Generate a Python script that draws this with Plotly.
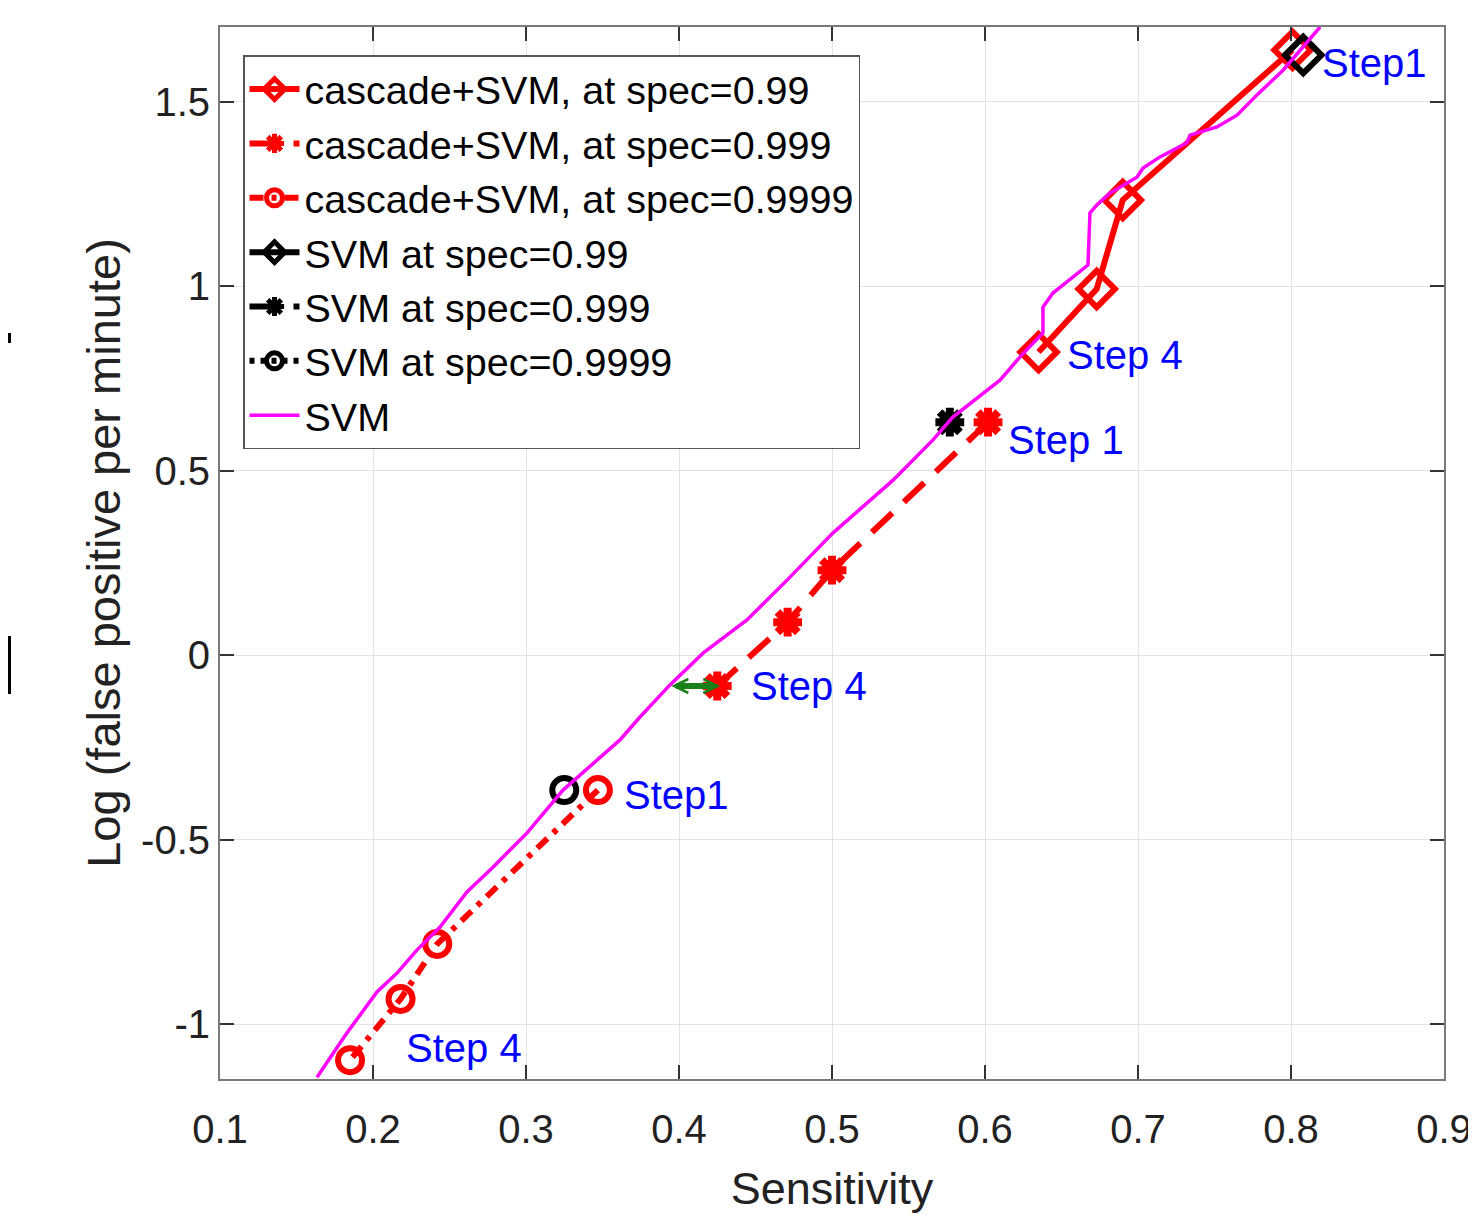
import plotly.graph_objects as go

# ---- data ----
casc99_x = [0.801, 0.690, 0.673, 0.635]
casc99_y = [1.640, 1.233, 0.992, 0.821]
casc999_x = [0.602, 0.500, 0.471, 0.425]
casc999_y = [0.631, 0.230, 0.089, -0.084]
casc9999_x = [0.347, 0.242, 0.218, 0.185]
casc9999_y = [-0.366, -0.783, -0.932, -1.098]

svm99_x = [0.808]
svm99_y = [1.626]
svm999_x = [0.577]
svm999_y = [0.631]
svm9999_x = [0.325]
svm9999_y = [-0.366]

svm_x = [0.1634, 0.183, 0.2026, 0.2157, 0.2288, 0.2438, 0.2614, 0.2784, 0.3007, 0.3242,
         0.3614, 0.3745, 0.3941, 0.4157, 0.4444, 0.4706, 0.5007, 0.5399, 0.566, 0.579,
         0.6098, 0.6229, 0.6379, 0.6379, 0.6444, 0.6673, 0.6686, 0.6732, 0.6817, 0.6993,
         0.7033, 0.7144, 0.7320, 0.7340, 0.7516, 0.7647, 0.7778, 0.7948, 0.8190]
svm_y = [-1.144, -1.024, -0.913, -0.862, -0.799, -0.737, -0.642, -0.575, -0.482, -0.366,
         -0.230, -0.168, -0.081, 0.005, 0.095, 0.203, 0.331, 0.474, 0.583, 0.645,
         0.745, 0.808, 0.873, 0.943, 0.981, 1.057, 1.198, 1.220, 1.252, 1.295,
         1.320, 1.350, 1.388, 1.409, 1.431, 1.463, 1.518, 1.585, 1.702]

step_labels = ["Step1", "Step 4", "Step 1", "Step 4", "Step1", "Step 4"]
step_x = [0.819, 0.652, 0.614, 0.446, 0.363, 0.220]
step_y = [1.604, 0.813, 0.583, -0.084, -0.379, -1.065]

gap_x = [0.394, 0.427]
gap_y = [-0.084, -0.084]

x_ticks = [0.1, 0.2, 0.3, 0.4, 0.5, 0.6, 0.7, 0.8, 0.9]
y_ticks = [-1, -0.5, 0, 0.5, 1, 1.5]
y_tick_text = ["-1", "-0.5", "0", "0.5", "1", "1.5"]

RED = "#ff0000"
GREEN = "#1a801a"
FONT = "Liberation Sans, Arial, sans-serif"

fig = go.Figure()

fig.add_trace(go.Scatter(x=casc99_x, y=casc99_y, mode="lines+markers",
                         name="cascade+SVM, at spec=0.99",
                         line=dict(color=RED, width=6),
                         marker=dict(symbol="diamond-open", size=28, color=RED,
                                     line=dict(width=6, color=RED))))
fig.add_trace(go.Scatter(x=casc999_x, y=casc999_y, mode="lines+markers",
                         name="cascade+SVM, at spec=0.999",
                         line=dict(color=RED, width=6, dash="28px,16px"),
                         marker=dict(symbol="asterisk-open", size=24, color=RED,
                                     line=dict(width=8, color=RED))))
fig.add_trace(go.Scatter(x=casc9999_x, y=casc9999_y, mode="lines+markers",
                         name="cascade+SVM, at spec=0.9999",
                         line=dict(color=RED, width=6, dash="14px,8px,5px,8px"),
                         marker=dict(symbol="circle-open", size=24, color=RED,
                                     line=dict(width=6, color=RED))))
fig.add_trace(go.Scatter(x=svm99_x, y=svm99_y, mode="lines+markers",
                         name="SVM at spec=0.99",
                         line=dict(color="black", width=6),
                         marker=dict(symbol="diamond-open", size=28, color="black",
                                     line=dict(width=6, color="black"))))
fig.add_trace(go.Scatter(x=svm999_x, y=svm999_y, mode="lines+markers",
                         name="SVM at spec=0.999",
                         line=dict(color="black", width=6, dash="28px,16px"),
                         marker=dict(symbol="asterisk-open", size=24, color="black",
                                     line=dict(width=8, color="black"))))
fig.add_trace(go.Scatter(x=svm9999_x, y=svm9999_y, mode="lines+markers",
                         name="SVM at spec=0.9999",
                         line=dict(color="black", width=6, dash="5px,6px"),
                         marker=dict(symbol="circle-open", size=24, color="black",
                                     line=dict(width=6, color="black"))))
fig.add_trace(go.Scatter(x=svm_x, y=svm_y, mode="lines", name="SVM",
                         line=dict(color="#ff00ff", width=3.5)))

for t, x, y in zip(step_labels, step_x, step_y):
    fig.add_annotation(x=x, y=y, text=t, showarrow=False, xanchor="left",
                       yanchor="middle", font=dict(family=FONT, size=40, color="#0000ff"))

# double-headed green arrow: thick shaft + heads
fig.add_shape(type="line", xref="x", yref="y", x0=gap_x[0] + 0.004, x1=gap_x[1] - 0.004,
              y0=gap_y[0], y1=gap_y[1], line=dict(color=GREEN, width=6))
fig.add_annotation(x=gap_x[1], y=gap_y[1], ax=gap_x[0], ay=gap_y[0],
                   xref="x", yref="y", axref="x", ayref="y", text="",
                   showarrow=True, arrowhead=5, arrowside="end+start",
                   arrowsize=0.55, arrowwidth=5, arrowcolor=GREEN)

# stray crop marks at the left edge of the reference (at the figure's left edge)
fig.add_shape(type="rect", xref="paper", yref="paper",
              x0=-212 / 1224, x1=-209 / 1224, y0=(1079 - 343) / 1052, y1=(1079 - 333) / 1052,
              fillcolor="black", line=dict(width=0))
fig.add_shape(type="rect", xref="paper", yref="paper",
              x0=-212 / 1224, x1=-209 / 1224, y0=(1079 - 694) / 1052, y1=(1079 - 636) / 1052,
              fillcolor="black", line=dict(width=0))

axis_common = dict(showgrid=True, gridcolor="#e3e3e3", gridwidth=1,
                   showline=True, linecolor="#7a7a7a", linewidth=2, mirror="allticks",
                   ticks="inside", ticklen=14, tickwidth=2, tickcolor="#333333",
                   zeroline=False, automargin=False,
                   tickfont=dict(family=FONT, size=40, color="#222222"))

# the page body has an 8px margin, so the figure is offset by (8, 8)
fig.update_layout(
    width=1468, height=1207,
    margin=dict(l=212, r=32, t=19, b=136),
    paper_bgcolor="white", plot_bgcolor="white",
    font=dict(family=FONT, color="#222222"),
    showlegend=True,
    legend=dict(x=0.0188, y=0.973, xanchor="left", yanchor="top",
                bgcolor="white", bordercolor="#555555", borderwidth=1.5,
                font=dict(family=FONT, size=39.5, color="black"),
                tracegroupgap=0, itemwidth=50),
    xaxis=dict(range=[0.1, 0.9], tickvals=x_ticks, ticktext=[str(v) for v in x_ticks],
               title=dict(text="Sensitivity", font=dict(family=FONT, size=45), standoff=22),
               ticklabelstandoff=14, **axis_common),
    yaxis=dict(range=[-1.149, 1.702], tickvals=y_ticks, ticktext=y_tick_text,
               title=dict(text="Log (false positive per minute)", font=dict(family=FONT, size=47), standoff=6),
               **axis_common),
)

fig.write_html("out.html")
